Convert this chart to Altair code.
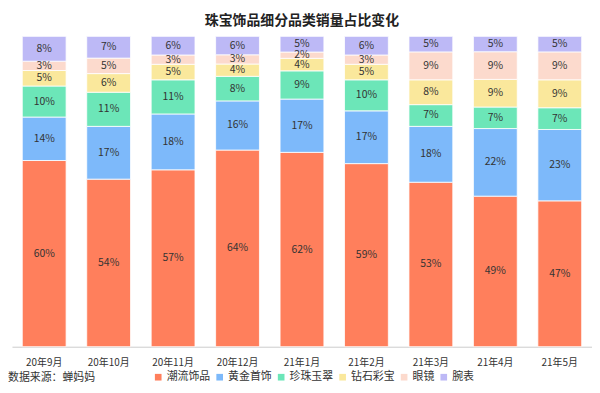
import altair as alt
import pandas as pd

months = ["20年9月", "20年10月", "20年11月", "20年12月", "21年1月", "21年2月", "21年3月", "21年4月", "21年5月"]
categories = ["潮流饰品", "黄金首饰", "珍珠玉翠", "钻石彩宝", "眼镜", "腕表"]
colors = ["#FF7F5C", "#7DB9FA", "#6CE6B8", "#FAE89C", "#FCDACD", "#BDB9F6"]

trend = [60, 54, 57, 64, 62, 59, 53, 49, 47]
gold = [14, 17, 18, 16, 17, 17, 18, 22, 23]
pearl = [10, 11, 11, 8, 9, 10, 7, 7, 7]
diamond = [5, 6, 5, 4, 4, 5, 8, 9, 9]
glasses = [3, 5, 3, 3, 2, 3, 9, 9, 9]
watch = [8, 7, 6, 6, 5, 6, 5, 5, 5]

series = [trend, gold, pearl, diamond, glasses, watch]
rows = []
for ci, (cat, vals) in enumerate(zip(categories, series)):
    for m, v in zip(months, vals):
        rows.append({"month": m, "cat": cat, "value": v, "order": ci})
df = pd.DataFrame(rows)

FONT = "Noto Sans CJK SC"
W, H = 585, 313

base = alt.Chart(df).transform_stack(
    stack="value", groupby=["month"], as_=["y0", "y1"], offset="normalize",
    sort=[alt.SortField("order", order="ascending")]
).transform_calculate(
    mid="(datum.y0 + datum.y1) / 2", label="datum.value + '%'"
)

xenc = alt.X("month:N", sort=months, title=None,
             scale=alt.Scale(paddingInner=0.32, paddingOuter=0.16),
             axis=alt.Axis(labelAngle=0, labelFont=FONT, labelFontSize=10, labelColor="#333",
                           domainColor="#cccccc", ticks=False, labelPadding=11))

bars = base.mark_bar(stroke="white", strokeWidth=0.8).encode(
    x=xenc,
    y=alt.Y("y0:Q", scale=alt.Scale(domain=[0, 1]), axis=None),
    y2="y1:Q",
    color=alt.Color("cat:N", sort=categories,
                    scale=alt.Scale(domain=categories, range=colors),
                    legend=alt.Legend(title=None, orient="none", direction="horizontal",
                                      legendX=142, legendY=338, symbolType="square",
                                      symbolSize=45, symbolStrokeWidth=0,
                                      labelFont=FONT, labelFontSize=11, labelColor="#333",
                                      columnPadding=4, labelOffset=3)),
)

texts = base.mark_text(font=FONT, fontSize=10.5, color="#333").encode(
    x=alt.X("month:N", sort=months),
    y=alt.Y("mid:Q", scale=alt.Scale(domain=[0, 1])),
    text="label:N",
)

src = alt.Chart(pd.DataFrame({"t": ["数据来源：蝉妈妈"]})).mark_text(
    font=FONT, fontSize=11, color="#333", align="left", baseline="middle"
).encode(x=alt.value(-4), y=alt.value(H + 32), text="t:N")

chart = alt.layer(bars, texts, src).properties(
    width=W, height=H,
    padding={"left": 0, "right": 0, "top": 4, "bottom": 0},
    title=alt.TitleParams("珠宝饰品细分品类销量占比变化", font=FONT, fontSize=14,
                          fontWeight="bold", color="#222", offset=8, anchor="middle"),
).configure_view(stroke=None)

chart.save("out.html", embed_options={"renderer": "svg", "actions": False})
